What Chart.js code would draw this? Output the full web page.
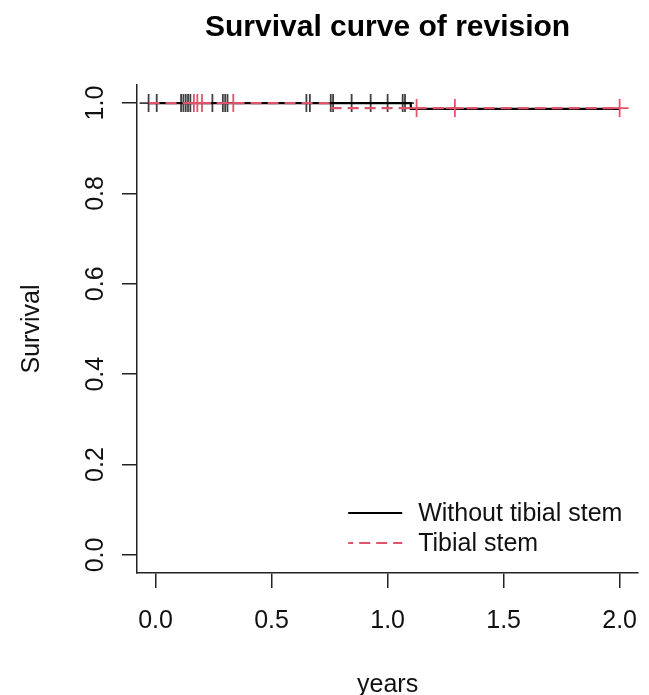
<!DOCTYPE html>
<html>
<head>
<meta charset="utf-8">
<script src="https://cdn.jsdelivr.net/npm/chart.js@4.4.1/dist/chart.umd.min.js"></script>
<style>
    html, body { margin: 0; padding: 0; background: #fff; }
    #wrap { width: 649px; height: 695px; position: relative; }
</style>
</head>
<body>
<div id="wrap"><canvas id="survChart"></canvas></div>
<script>
const chartTitle = 'Survival curve of revision';
const xTicks = [0, 0.5, 1, 1.5, 2];
const yTicks = [0, 0.2, 0.4, 0.6, 0.8, 1];

// Kaplan-Meier steps: time (years) and survival after that time
const noStemTimes = [-0.03, 1.10, 2.0];
const noStemSurv = [1.0, 0.987, 0.987];
const stemTimes = [-0.03, 0.745, 2.0];
const stemSurv = [1.0, 0.989, 0.989];

// censored observations (years)
const noStemCensor = [-0.03, 0.005, 0.11, 0.12, 0.13, 0.14, 0.15, 0.245, 0.29, 0.30, 0.31,
    0.65, 0.665, 0.755, 0.765, 0.845, 0.927, 1.0, 1.065, 1.075];
const stemCensor = [0.165, 0.18, 0.20, 0.335, 1.125, 1.29, 2.0];

const FONT = '"Liberation Sans", Arial, Helvetica, sans-serif';
const RED = '#DF536B';
const AXIS = '#222';

function survAt(times, surv, t) {
    let s = surv[0];
    for (let i = 0; i < times.length; i++) if (times[i] <= t) s = surv[i];
    return s;
}
const steps = (times, surv) => times.map((t, i) => ({x: t, y: surv[i]}));
const marks = (cens, times, surv) => cens.map(t => ({x: t, y: survAt(times, surv, t)}));

// title centred over the plot region, and rotated y tick labels like R's las=0
const rText = {
    id: 'rText',
    afterDraw(chart) {
        const c = chart.ctx, a = chart.chartArea, y = chart.scales.y;
        c.save();
        c.fillStyle = '#000';
        c.textAlign = 'center';
        c.textBaseline = 'middle';
        c.font = 'bold 30px ' + FONT;
        c.fillText(chartTitle, (a.left + a.right) / 2, 28);
        c.font = '25px ' + FONT;
        c.fillStyle = '#111';
        yTicks.forEach(v => {
            c.save();
            c.translate(y.right - 41, y.getPixelForValue(v));
            c.rotate(-Math.PI / 2);
            c.fillText(v.toFixed(1), 0, 0);
            c.restore();
        });
        c.restore();
    }
};

const legendBox = {
    id: 'legendBox',
    afterDraw(chart) {
        const c = chart.ctx, a = chart.chartArea;
        const items = [chart.data.datasets[0], chart.data.datasets[2]];
        c.save();
        c.font = '25px ' + FONT;
        c.textBaseline = 'middle';
        c.textAlign = 'left';
        items.forEach((ds, i) => {
            const yy = a.bottom - 60 + i * 30;
            c.strokeStyle = ds.borderColor;
            c.lineWidth = ds.borderWidth;
            c.setLineDash(ds.borderDash || []);
            c.lineDashOffset = ds.borderDash ? 6 : 0;
            c.beginPath();
            c.moveTo(a.right - 290, yy);
            c.lineTo(a.right - 236, yy);
            c.stroke();
            c.setLineDash([]);
            c.fillStyle = '#111';
            c.fillText(ds.label, a.right - 220, yy + 1);
        });
        c.restore();
    }
};

const axisGrid = {drawOnChartArea: false, drawTicks: true, tickLength: 15, color: AXIS, lineWidth: 1.5};
const axisBorder = {display: true, color: AXIS, width: 1.5};

new Chart(document.getElementById('survChart'), {
    type: 'scatter',
    data: {
        datasets: [
            {
                label: 'Without tibial stem',
                data: steps(noStemTimes, noStemSurv),
                showLine: true, stepped: 'before',
                borderColor: '#000', borderWidth: 2.2,
                pointRadius: 0, order: 4
            },
            {
                label: 'censored, without stem',
                data: marks(noStemCensor, noStemTimes, noStemSurv),
                showLine: false, pointStyle: 'cross', pointRadius: 9,
                pointBorderColor: 'rgba(0,0,0,0.75)', pointBorderWidth: 1.8, order: 3
            },
            {
                label: 'Tibial stem',
                data: steps(stemTimes, stemSurv),
                showLine: true, stepped: 'before',
                borderColor: RED, borderWidth: 2.2, borderDash: [11, 6],
                pointRadius: 0, order: 2
            },
            {
                label: 'censored, stem',
                data: marks(stemCensor, stemTimes, stemSurv),
                showLine: false, pointStyle: 'cross', pointRadius: 9,
                pointBorderColor: RED, pointBorderWidth: 1.8, order: 1
            }
        ]
    },
    options: {
        responsive: true,
        maintainAspectRatio: false,
        animation: false,
        layout: { padding: { top: 85, right: 9 } },
        plugins: {
            legend: { display: false },
            tooltip: { enabled: false },
            title: { display: false }
        },
        scales: {
            x: {
                type: 'linear', min: -0.08, max: 2.08,
                afterBuildTicks: s => { s.ticks = xTicks.map(v => ({value: v})); },
                afterFit: s => { s.height = 122; s.paddingLeft = 0; s.paddingRight = 0; },
                grid: axisGrid, border: axisBorder,
                ticks: { font: { family: FONT, size: 25 }, color: '#111', padding: 18, maxRotation: 0,
                         callback: v => Number(v).toFixed(1) },
                title: { display: true, text: 'years', color: '#111',
                         font: { family: FONT, size: 25, lineHeight: 1 }, padding: { top: 0, bottom: -3 } }
            },
            y: {
                type: 'linear', min: -0.04, max: 1.04,
                afterBuildTicks: s => { s.ticks = yTicks.map(v => ({value: v})); },
                afterFit: s => { s.width = 137; },
                grid: axisGrid, border: axisBorder,
                ticks: { display: false },
                title: { display: true, text: 'Survival', color: '#111',
                         font: { family: FONT, size: 25, lineHeight: 1.2 }, padding: { top: 17, bottom: 0 } }
            }
        }
    },
    plugins: [rText, legendBox]
});
</script>
</body>
</html>
